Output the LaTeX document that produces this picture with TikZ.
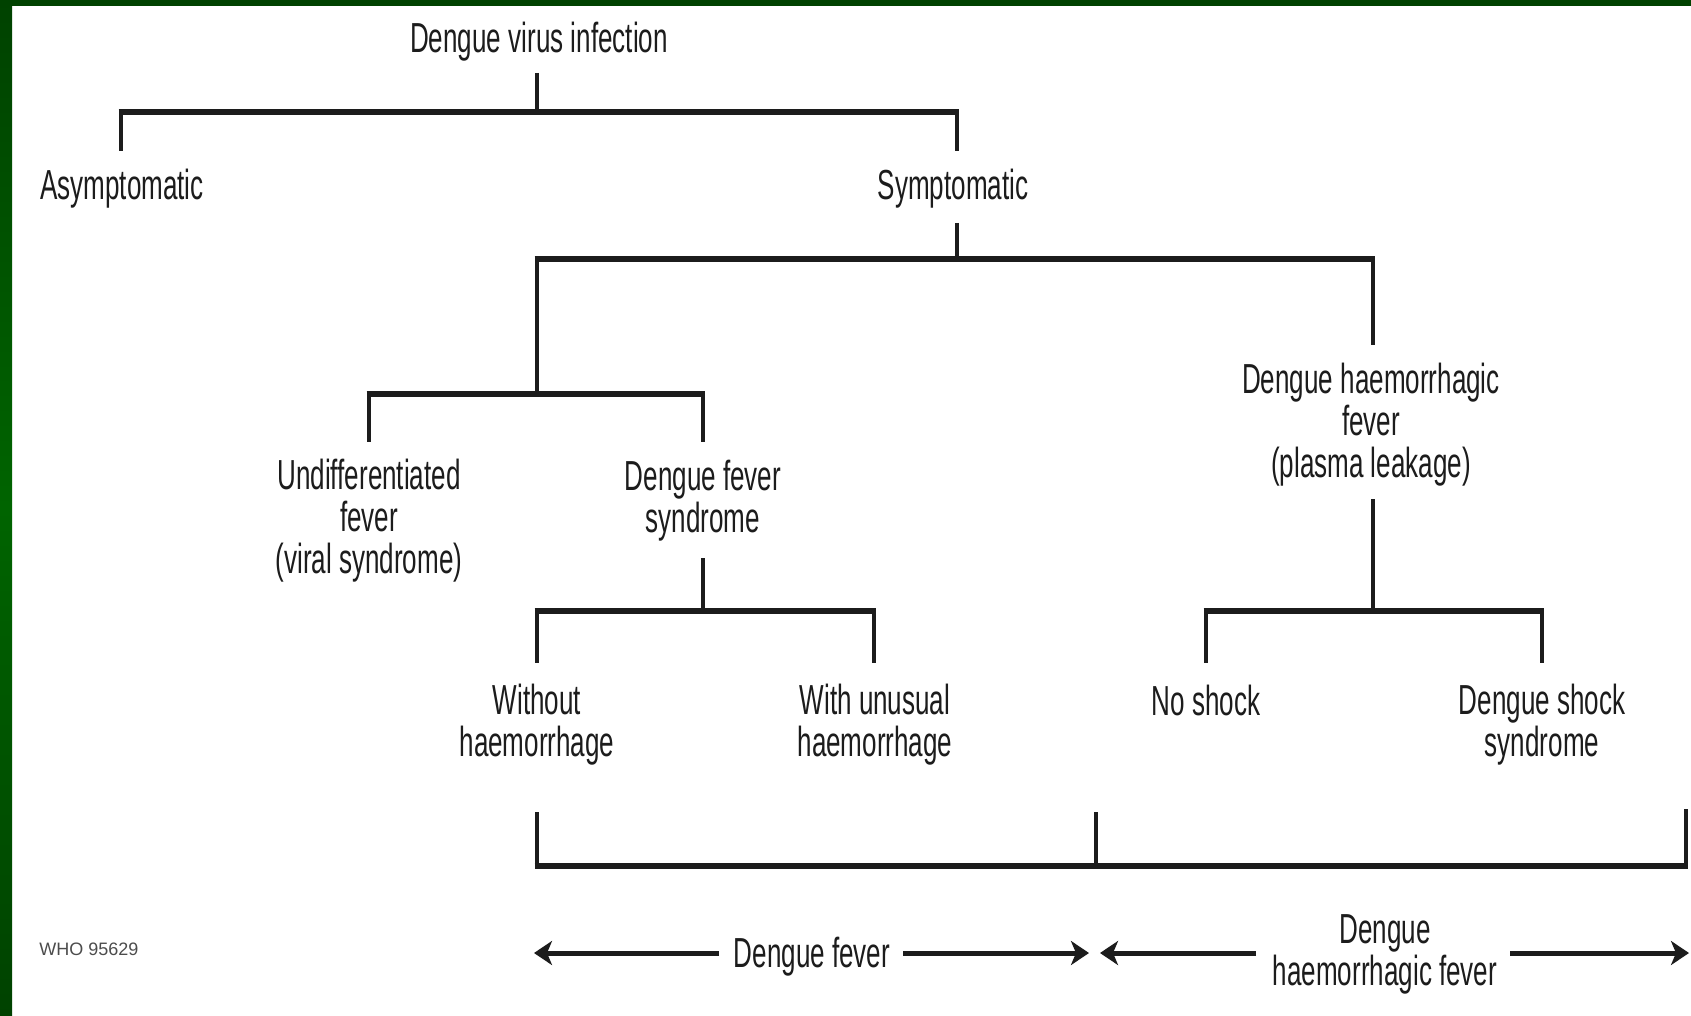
\documentclass[tikz,border=0pt]{standalone}
\usepackage{fontspec}
\setmainfont[FakeStretch=0.62]{Liberation Sans}
\newfontfamily\whofont{Liberation Sans}
\usetikzlibrary{arrows.meta}
\definecolor{bordergreen}{RGB}{0,66,0}
\definecolor{bordergreenmid}{RGB}{0,100,0}
\definecolor{inkc}{RGB}{28,28,28}
\begin{document}
\begin{tikzpicture}[x=0.5pt,y=-0.5pt,
  lbl/.style={inner sep=0pt, align=center, font=\fontsize{21}{21}\selectfont, text=inkc},
  hbar/.style={line width=3.2pt, draw=inkc, line cap=butt, shorten <=-1.15pt, shorten >=-1.15pt},
  vbar/.style={line width=2.3pt, draw=inkc},
  arr/.style={line width=2.5pt, draw=inkc, -{Stealth[length=9pt,width=12pt,inset=2.5pt]}}]
\useasboundingbox (0,0) rectangle (1691,1016);
\fill[white] (0,0) rectangle (1691,1016);
\shade[top color=bordergreen, bottom color=bordergreen, middle color=bordergreenmid] (0,0) rectangle (12,1016);
\fill[bordergreen] (0,0) rectangle (1691,6);

% labels
\node[lbl] (root) at (539,42) {Dengue virus infection};
\node[lbl] (asym) at (122,189) {Asymptomatic};
\node[lbl] (sym) at (953,189) {Symptomatic};
\node[lbl] (undiff) at (369,521) {Undifferentiated\\fever\\(viral syndrome)};
\node[lbl] (dfs) at (703,501) {Dengue fever\\syndrome};
\node[lbl] (dhf) at (1371,425) {Dengue haemorrhagic\\fever\\(plasma leakage)};
\node[lbl] (without) at (537,725) {Without\\haemorrhage};
\node[lbl] (withu) at (875,725) {With unusual\\haemorrhage};
\node[lbl] (noshock) at (1206,700) {No shock};
\node[lbl] (dss) at (1542,725) {Dengue shock\\syndrome};
\node[lbl] (dflab) at (812,957) {Dengue fever};
\node[lbl] (dhflab) at (1385,954) {Dengue\\haemorrhagic fever};
\node[inner sep=0pt, font=\whofont\fontsize{9}{9}\selectfont, text=gray!60!black] (who) at (89,949) {WHO 95629};

% junction coordinates
\coordinate (r0) at (537,73);
\coordinate (r1) at (537,112);
\coordinate (a0) at (121,151);
\coordinate (a1) at (121,112);
\coordinate (s0) at (957,151);
\coordinate (s3) at (957,112);
\coordinate (s1) at (957,223);
\coordinate (s2) at (957,259);
\coordinate (l1) at (537,259);
\coordinate (h3) at (1373,259);
\coordinate (l0) at (537,394);
\coordinate (u1) at (369,394);
\coordinate (d3) at (703,394);
\coordinate (u0) at (369,442);
\coordinate (d0) at (703,442);
\coordinate (d1) at (703,558);
\coordinate (d2) at (703,611);
\coordinate (w1) at (537,611);
\coordinate (wu1) at (874,611);
\coordinate (w0) at (537,663);
\coordinate (wu0) at (874,663);
\coordinate (h0) at (1373,345);
\coordinate (h1) at (1373,499);
\coordinate (h2) at (1373,611);
\coordinate (n1) at (1206,611);
\coordinate (ds1) at (1542,611);
\coordinate (n0) at (1206,663);
\coordinate (ds0) at (1542,663);
\coordinate (bl) at (537,812);
\coordinate (bm) at (1096,812);
\coordinate (br) at (1686,809);
\coordinate (bbl) at (537,866);
\coordinate (bb) at (1096,866);
\coordinate (bbr) at (1686,866);
\coordinate (dfl) at (534,953);
\coordinate (dfr) at (1089,953);
\coordinate (hl) at (1100,953);
\coordinate (hr) at (1689,953);
\coordinate (dfls) at (719,953);
\coordinate (dfrs) at (903,953);
\coordinate (hls) at (1256,953);
\coordinate (hrs) at (1510,953);

% tree connectors: vertical stems
\draw[vbar] (r0) -- (r1);
\draw[vbar] (a1) -- (a0);
\draw[vbar] (s3) -- (s0);
\draw[vbar] (s1) -- (s2);
\draw[vbar] (l1) -- (l0);
\draw[vbar] (h3) -- (h0);
\draw[vbar] (u1) -- (u0);
\draw[vbar] (d3) -- (d0);
\draw[vbar] (d1) -- (d2);
\draw[vbar] (w1) -- (w0);
\draw[vbar] (wu1) -- (wu0);
\draw[vbar] (h1) -- (h2);
\draw[vbar] (n1) -- (n0);
\draw[vbar] (ds1) -- (ds0);
\draw[vbar] (bl) -- (bbl);
\draw[vbar] (bm) -- (bb);
\draw[vbar] (br) -- (bbr);
% horizontal bars
\draw[hbar] (a1) -- (s3);
\draw[hbar] (l1) -- (h3);
\draw[hbar] (u1) -- (d3);
\draw[hbar] (w1) -- (wu1);
\draw[hbar] (n1) -- (ds1);
\draw[hbar] (bbl) -- (bbr);

% span arrows
\draw[arr] (dfls) -- (dfl);
\draw[arr] (dfrs) -- (dfr);
\draw[arr] (hls) -- (hl);
\draw[arr] (hrs) -- (hr);
\end{tikzpicture}
\end{document}
